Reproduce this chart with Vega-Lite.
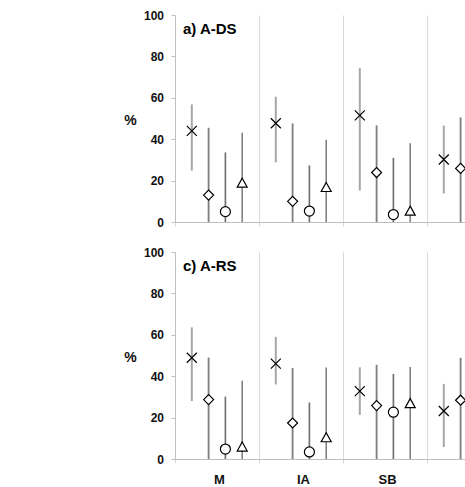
{
  "$schema": "https://vega.github.io/schema/vega-lite/v6.json",
  "padding": {"left": 123, "top": 9, "right": 0, "bottom": 0},
  "background": "white",
  "bounds": "flush",
  "spacing": 30,
  "config": {
    "view": {"stroke": null},
    "font": "Liberation Sans",
    "axisY": {
      "titleAngle": 0, "titleX": -45, "titleY": 105.5, "titleAlign": "center", "titleBaseline": "middle",
      "titleFontSize": 14, "titleFontWeight": "bold", "titleColor": "#111",
      "values": [0, 20, 40, 60, 80, 100], "grid": false, "tickSize": 4, "tickColor": "#bfbfbf", "domainColor": "#bfbfbf",
      "labelFontSize": 12, "labelFontWeight": "bold", "labelColor": "#111", "labelPadding": 7.5
    },
    "axisX": {
      "tickBand": "extent", "grid": true, "gridColor": "#d9d9d9", "tickColor": "#d9d9d9",
      "domainColor": "#bfbfbf", "tickSize": 4, "labelAngle": 0, "labelFontSize": 13, "labelFontWeight": "bold",
      "labelColor": "#111", "labelPadding": 10, "labelOffset": 2
    }
  },
  "datasets": {
    "a": [
      {"cat": "M", "series": "X", "v": 44.0, "lo": 24.8, "hi": 56.8},
      {"cat": "M", "series": "D", "v": 13.0, "lo": 0, "hi": 45.5},
      {"cat": "M", "series": "O", "v": 5.0, "lo": 0, "hi": 33.6},
      {"cat": "M", "series": "T", "v": 19.0, "lo": 0, "hi": 43.1},
      {"cat": "IA", "series": "X", "v": 47.7, "lo": 28.8, "hi": 60.5},
      {"cat": "IA", "series": "D", "v": 10.0, "lo": 0, "hi": 47.6},
      {"cat": "IA", "series": "O", "v": 5.3, "lo": 0, "hi": 27.3},
      {"cat": "IA", "series": "T", "v": 16.9, "lo": 0, "hi": 39.7},
      {"cat": "SB", "series": "X", "v": 51.5, "lo": 15.2, "hi": 74.3},
      {"cat": "SB", "series": "D", "v": 23.9, "lo": 0, "hi": 46.7},
      {"cat": "SB", "series": "O", "v": 3.6, "lo": 0, "hi": 31.0},
      {"cat": "SB", "series": "T", "v": 5.5, "lo": 0, "hi": 38.0},
      {"cat": "C", "series": "X", "v": 30.2, "lo": 13.8, "hi": 46.6},
      {"cat": "C", "series": "D", "v": 25.9, "lo": 0, "hi": 50.5}
    ],
    "c": [
      {"cat": "M", "series": "X", "v": 48.9, "lo": 28.0, "hi": 63.6},
      {"cat": "M", "series": "D", "v": 28.7, "lo": 0, "hi": 49.0},
      {"cat": "M", "series": "O", "v": 4.8, "lo": 0, "hi": 30.1},
      {"cat": "M", "series": "T", "v": 6.0, "lo": 0, "hi": 37.8},
      {"cat": "IA", "series": "X", "v": 46.1, "lo": 36.0, "hi": 59.0},
      {"cat": "IA", "series": "D", "v": 17.4, "lo": 0, "hi": 44.0},
      {"cat": "IA", "series": "O", "v": 3.4, "lo": 0, "hi": 27.3},
      {"cat": "IA", "series": "T", "v": 10.5, "lo": 0, "hi": 44.2},
      {"cat": "SB", "series": "X", "v": 32.8, "lo": 21.3, "hi": 44.3},
      {"cat": "SB", "series": "D", "v": 25.8, "lo": 0, "hi": 45.5},
      {"cat": "SB", "series": "O", "v": 22.6, "lo": 0, "hi": 41.1},
      {"cat": "SB", "series": "T", "v": 27.0, "lo": 0, "hi": 44.4},
      {"cat": "C", "series": "X", "v": 23.2, "lo": 5.8, "hi": 36.3},
      {"cat": "C", "series": "D", "v": 28.4, "lo": 0, "hi": 48.9}
    ]
  },
  "vconcat": [
    {
      "width": 336, "height": 207,
      "layer": [
        {
          "data": {"name": "a"},
          "mark": {"type": "rule"},
          "encoding": {
            "x": {"field": "cat", "type": "nominal", "sort": ["M", "IA", "SB", "C"], "scale": {"domain": ["M", "IA", "SB", "C"], "paddingInner": 0, "paddingOuter": 0}, "axis": {"labels": false, "title": null}},
            "xOffset": {"field": "series", "type": "nominal", "scale": {"type": "point", "domain": ["X", "D", "O", "T"], "padding": 1}},
            "y": {"field": "lo", "type": "quantitative", "scale": {"domain": [0, 100]}, "axis": {"title": "%"}},
            "y2": {"field": "hi"},
            "color": {"field": "series", "type": "nominal", "scale": {"domain": ["X", "D", "O", "T"], "range": ["#a6a6a6", "#7f7f7f", "#6f6f6f", "#7a7a7a"]}, "legend": null},
            "strokeWidth": {"field": "series", "type": "nominal", "scale": {"domain": ["X", "D", "O", "T"], "range": [2, 1.5, 1.2, 1.5]}, "legend": null}
          }
        },
        {
          "data": {"name": "a"},
          "mark": {"type": "point", "filled": true, "fill": "white", "stroke": "black", "strokeWidth": 1.2, "opacity": 1},
          "encoding": {
            "x": {"field": "cat", "type": "nominal", "sort": ["M", "IA", "SB", "C"]},
            "xOffset": {"field": "series", "type": "nominal"},
            "y": {"field": "v", "type": "quantitative"},
            "shape": {"field": "series", "type": "nominal", "scale": {"domain": ["X", "D", "O", "T"], "range": ["M-1,-1L1,1M-1,1L1,-1", "diamond", "circle", "M0,-0.9L1,0.9L-1,0.9Z"]}, "legend": null},
            "size": {"field": "series", "type": "nominal", "scale": {"domain": ["X", "D", "O", "T"], "range": [100, 100, 128, 115]}, "legend": null}
          }
        },
        {
          "data": {"values": [{"label": "a) A-DS"}]},
          "mark": {"type": "text", "align": "left", "baseline": "middle", "fontSize": 15, "fontWeight": "bold", "dx": 8, "color": "#000"},
          "encoding": {
            "x": {"datum": "M", "bandPosition": 0},
            "y": {"datum": 93},
            "text": {"field": "label"}
          }
        }
      ]
    },
    {
      "width": 336, "height": 207,
      "layer": [
        {
          "data": {"name": "c"},
          "mark": {"type": "rule"},
          "encoding": {
            "x": {"field": "cat", "type": "nominal", "sort": ["M", "IA", "SB", "C"], "scale": {"domain": ["M", "IA", "SB", "C"], "paddingInner": 0, "paddingOuter": 0}, "axis": {"title": null}},
            "xOffset": {"field": "series", "type": "nominal", "scale": {"type": "point", "domain": ["X", "D", "O", "T"], "padding": 1}},
            "y": {"field": "lo", "type": "quantitative", "scale": {"domain": [0, 100]}, "axis": {"title": "%"}},
            "y2": {"field": "hi"},
            "color": {"field": "series", "type": "nominal", "scale": {"domain": ["X", "D", "O", "T"], "range": ["#a6a6a6", "#7f7f7f", "#6f6f6f", "#7a7a7a"]}, "legend": null},
            "strokeWidth": {"field": "series", "type": "nominal", "scale": {"domain": ["X", "D", "O", "T"], "range": [2, 1.5, 1.2, 1.5]}, "legend": null}
          }
        },
        {
          "data": {"name": "c"},
          "mark": {"type": "point", "filled": true, "fill": "white", "stroke": "black", "strokeWidth": 1.2, "opacity": 1},
          "encoding": {
            "x": {"field": "cat", "type": "nominal", "sort": ["M", "IA", "SB", "C"]},
            "xOffset": {"field": "series", "type": "nominal"},
            "y": {"field": "v", "type": "quantitative"},
            "shape": {"field": "series", "type": "nominal", "scale": {"domain": ["X", "D", "O", "T"], "range": ["M-1,-1L1,1M-1,1L1,-1", "diamond", "circle", "M0,-0.9L1,0.9L-1,0.9Z"]}, "legend": null},
            "size": {"field": "series", "type": "nominal", "scale": {"domain": ["X", "D", "O", "T"], "range": [100, 100, 128, 115]}, "legend": null}
          }
        },
        {
          "data": {"values": [{"label": "c) A-RS"}]},
          "mark": {"type": "text", "align": "left", "baseline": "middle", "fontSize": 15, "fontWeight": "bold", "dx": 8, "color": "#000"},
          "encoding": {
            "x": {"datum": "M", "bandPosition": 0},
            "y": {"datum": 93},
            "text": {"field": "label"}
          }
        }
      ]
    }
  ]
}
